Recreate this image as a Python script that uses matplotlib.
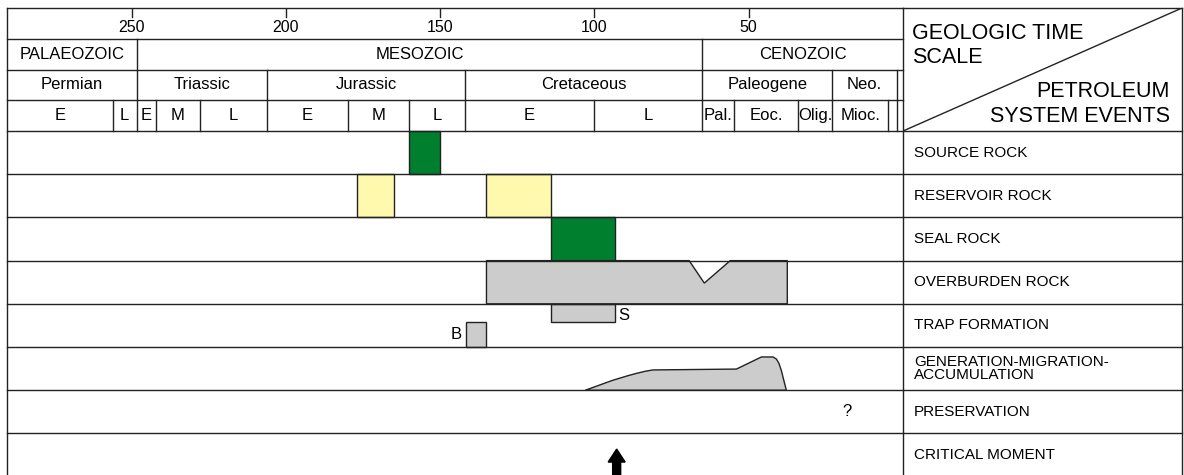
import numpy as np
import matplotlib.pyplot as plt
from matplotlib.patches import Polygon, Rectangle

plt.rcParams['font.family'] = ['Liberation Sans', 'DejaVu Sans']

# ---- geologic time scale (Ma) ----
tick_ages = [250, 200, 150, 100, 50]

eras = ['PALAEOZOIC', 'MESOZOIC', 'CENOZOIC']
era_bounds = [290.4, 248.3, 65.0, 0.0]

periods = ['Permian', 'Triassic', 'Jurassic', 'Cretaceous', 'Paleogene', 'Neo.', '']
period_bounds = [290.4, 248.3, 206.1, 142.0, 65.0, 23.0, 2.0, 0.0]

epochs = ['E', 'L', 'E', 'M', 'L', 'E', 'M', 'L', 'E', 'L',
          'Pal.', 'Eoc.', 'Olig.', 'Mioc.', '', '']
epoch_bounds = [290.4, 256.2, 248.3, 242.2, 227.9, 206.1, 179.9, 160.1,
                142.0, 100.1, 65.0, 54.9, 33.9, 23.0, 4.8, 2.0, 0.0]

# ---- petroleum system events ----
events = ['SOURCE ROCK', 'RESERVOIR ROCK', 'SEAL ROCK', 'OVERBURDEN ROCK',
          'TRAP FORMATION', 'GENERATION-MIGRATION-\nACCUMULATION',
          'PRESERVATION', 'CRITICAL MOMENT']

source_rock = [(160.1, 150.0)]
reservoir_rock = [(177.0, 165.1), (135.0, 114.1)]
seal_rock = [(114.1, 93.4)]
overburden = (135.0, 37.5)
overburden_notch = (69.3, 64.4, 56.0)
notch_depth = 0.52
trap_s = (114.0, 93.4)
trap_b = (141.6, 135.3)
trap_split = 0.43
gen_ages = [103.0, 99.5, 97.2, 94.5, 91.8, 89.0, 86.4, 83.5, 81.0, 54.0,
            45.9, 42.1, 41.0, 40.2, 39.4, 38.6, 37.8]
gen_height = [0.0, 0.09, 0.15, 0.22, 0.28, 0.34, 0.39, 0.44, 0.47, 0.49,
              0.77, 0.77, 0.72, 0.62, 0.45, 0.22, 0.0]
preservation_q = 18.2
critical_moment = 92.8

green = '#007f2e'
yellow = '#fff9ae'
grey = '#cccccc'
lc = '#222222'

hdr = 0.712          # header row height (event row = 1)
top0 = 4 * hdr       # top of first event row
ybot = 10.81

fig = plt.figure(figsize=(11.84, 4.75), dpi=100)
ax = fig.add_axes([7 / 1184, 0, 896 / 1184, 467 / 475])
axr = fig.add_axes([903 / 1184, 0, 279 / 1184, 467 / 475])
for a in (ax, axr):
    a.set_ylim(ybot, 0)
    a.axis('off')
ax.set_xlim(290.4, 0)
axr.set_xlim(0, 1)

# borders / horizontal lines
hlines = [0, hdr, 2 * hdr, 3 * hdr] + [top0 + i for i in range(8)]
for y in hlines:
    ax.plot([290.4, 0], [y, y], color=lc, lw=1, clip_on=False)
for y in [0, top0] + [top0 + i for i in range(1, 8)]:
    axr.plot([0, 1], [y, y], color=lc, lw=1, clip_on=False)
ax.plot([290.4, 290.4], [0, ybot], color=lc, lw=1, clip_on=False)
axr.plot([0, 0], [0, ybot], color=lc, lw=1, clip_on=False)
axr.plot([1, 1], [0, ybot], color=lc, lw=1, clip_on=False)

# ticks
for t in tick_ages:
    ax.plot([t, t], [0, 0.21], color=lc, lw=1)
    ax.text(t, 0.45, str(t), ha='center', va='center', fontsize=11.5)

# header rows
def header_row(names, bounds, row):
    y0, y1 = row * hdr, (row + 1) * hdr
    for b in bounds[1:-1]:
        ax.plot([b, b], [y0, y1], color=lc, lw=1)
    for i, n in enumerate(names):
        ax.text((bounds[i] + bounds[i + 1]) / 2, (y0 + y1) / 2, n,
                ha='center', va='center', fontsize=12)

header_row(eras, era_bounds, 1)
header_row(periods, period_bounds, 2)
header_row(epochs, epoch_bounds, 3)

# event bars
def bars(spans, row, color):
    for a0, a1 in spans:
        ax.add_patch(Rectangle((a1, top0 + row), a0 - a1, 1, facecolor=color,
                               edgecolor=lc, lw=1))

bars(source_rock, 0, green)
bars(reservoir_rock, 1, yellow)
bars(seal_rock, 2, green)

r = top0 + 3
n0, n1, n2 = overburden_notch
ax.add_patch(Polygon([(overburden[0], r), (n0, r), (n1, r + notch_depth), (n2, r),
                      (overburden[1], r), (overburden[1], r + 1), (overburden[0], r + 1)],
                     closed=True, facecolor=grey, edgecolor=lc, lw=1))

r = top0 + 4
ax.add_patch(Rectangle((trap_s[1], r), trap_s[0] - trap_s[1], trap_split,
                       facecolor=grey, edgecolor=lc, lw=1))
ax.add_patch(Rectangle((trap_b[1], r + trap_split), trap_b[0] - trap_b[1], 1 - trap_split,
                       facecolor=grey, edgecolor=lc, lw=1))
ax.text(trap_s[1] - 1.0, r + 0.26, 'S', ha='left', va='center', fontsize=12)
ax.text(trap_b[0] + 1.5, r + 0.72, 'B', ha='right', va='center', fontsize=12)

r = top0 + 6
gx = np.array(gen_ages)
gy = r - np.array(gen_height)
ax.add_patch(Polygon(np.column_stack([gx, gy]), closed=True, facecolor=grey,
                     edgecolor=lc, lw=1))

ax.text(preservation_q, top0 + 6.5, '?', ha='center', va='center', fontsize=12)

ax.arrow(critical_moment, ybot + 0.2, 0, 10.21 - (ybot + 0.2), width=2.6,
         head_width=5.5, head_length=0.3, length_includes_head=True,
         fc='black', ec='black')

# right panel
axr.plot([0, 1], [top0, 0], color=lc, lw=1)
axr.text(0.032, 0.72, 'GEOLOGIC TIME', ha='left', va='baseline', fontsize=15.5)
axr.text(0.032, 1.27, 'SCALE', ha='left', va='baseline', fontsize=15.5)
axr.text(0.957, 2.06, 'PETROLEUM', ha='right', va='baseline', fontsize=15.5)
axr.text(0.957, 2.64, 'SYSTEM EVENTS', ha='right', va='baseline', fontsize=15.5)
for i, e in enumerate(events):
    axr.text(0.039, top0 + i + 0.5, e, ha='left', va='center', fontsize=11,
             linespacing=0.9)

fig.savefig('out.png', dpi=100, facecolor='white')
